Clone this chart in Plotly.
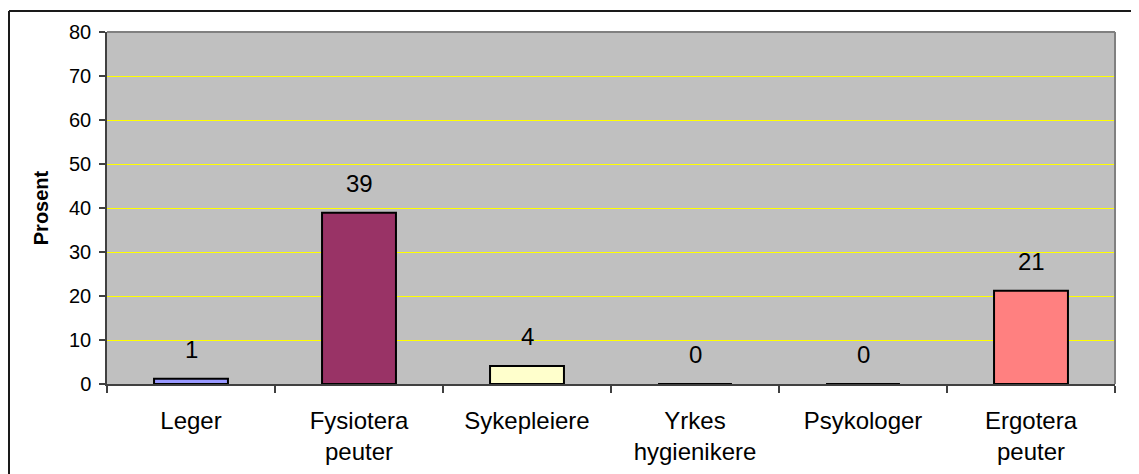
import plotly.graph_objects as go

categories = ["Leger", "Fysiotera<br>peuter", "Sykepleiere", "Yrkes<br>hygienikere", "Psykologer", "Ergotera<br>peuter"]
values = [1.2, 38.9, 4.1, 0, 0, 21.2]
labels = ["1", "39", "4", "0", "0", "21"]
colors = ["#9999FF", "#993366", "#FFFFCC", "#FFFFFF", "#FFFFFF", "#FF8080"]
y_ticks = [0, 10, 20, 30, 40, 50, 60, 70, 80]

# page has an 8px body margin; figure coordinates are page minus 8
OFF = 8
W, H = 1139, 474
L, R, T, B = 107 - OFF, 1115 - OFF, 32 - OFF, 384 - OFF
FONT = "Liberation Sans, Arial, sans-serif"

fig = go.Figure()
fig.add_trace(go.Bar(
    x=categories, y=values,
    marker=dict(color=colors, line=dict(color="#000000", width=2)),
    width=0.44,
    hoverinfo="skip",
))

for c, v, t in zip(categories, values, labels):
    fig.add_annotation(x=c, y=v, text=t, showarrow=False, yanchor="bottom",
                       yshift=14, font=dict(family=FONT, size=24, color="#000"))

def px(x):
    return (x - OFF - L) / (R - L)

def py(y):
    return (B - (y - OFF)) / (B - T)

# outer chart border (top and left visible)
fig.add_shape(type="line", xref="paper", yref="paper", x0=px(9), x1=px(1145), y0=py(11), y1=py(11),
              line=dict(color="#1a1a1a", width=2))
fig.add_shape(type="line", xref="paper", yref="paper", x0=px(9), x1=px(9), y0=py(11), y1=py(480),
              line=dict(color="#1a1a1a", width=2))
# plot area border (top and right gray)
fig.add_shape(type="line", xref="paper", yref="paper", x0=0, x1=1, y0=1, y1=1,
              line=dict(color="#808080", width=2), layer="above")
fig.add_shape(type="line", xref="paper", yref="paper", x0=1, x1=1, y0=0, y1=1,
              line=dict(color="#808080", width=2), layer="above")

fig.update_layout(
    width=W, height=H,
    margin=dict(l=L, r=W - R, t=T, b=H - B, pad=0),
    paper_bgcolor="#FFFFFF",
    plot_bgcolor="#C0C0C0",
    showlegend=False,
    bargap=0.56,
    font=dict(family=FONT, size=20, color="#000"),
    xaxis=dict(
        type="category",
        showgrid=False,
        showline=True, linecolor="#404040", linewidth=1.5,
        ticks="outside", tickson="boundaries", ticklen=7, tickcolor="#404040", tickwidth=1.5,
        tickfont=dict(size=24),
        ticklabelstandoff=14,
        fixedrange=True,
    ),
    yaxis=dict(
        range=[0, 80],
        tickvals=y_ticks,
        showgrid=True, gridcolor="#FFFF00", gridwidth=1,
        zeroline=False,
        showline=True, linecolor="#404040", linewidth=1.5,
        ticks="outside", ticklen=6, tickcolor="#404040", tickwidth=1.5,
        tickfont=dict(size=20),
        ticklabelstandoff=4,
        title=dict(text="<b>Prosent</b>", font=dict(size=20), standoff=15),
        fixedrange=True,
    ),
)

fig.write_html("out.html")
